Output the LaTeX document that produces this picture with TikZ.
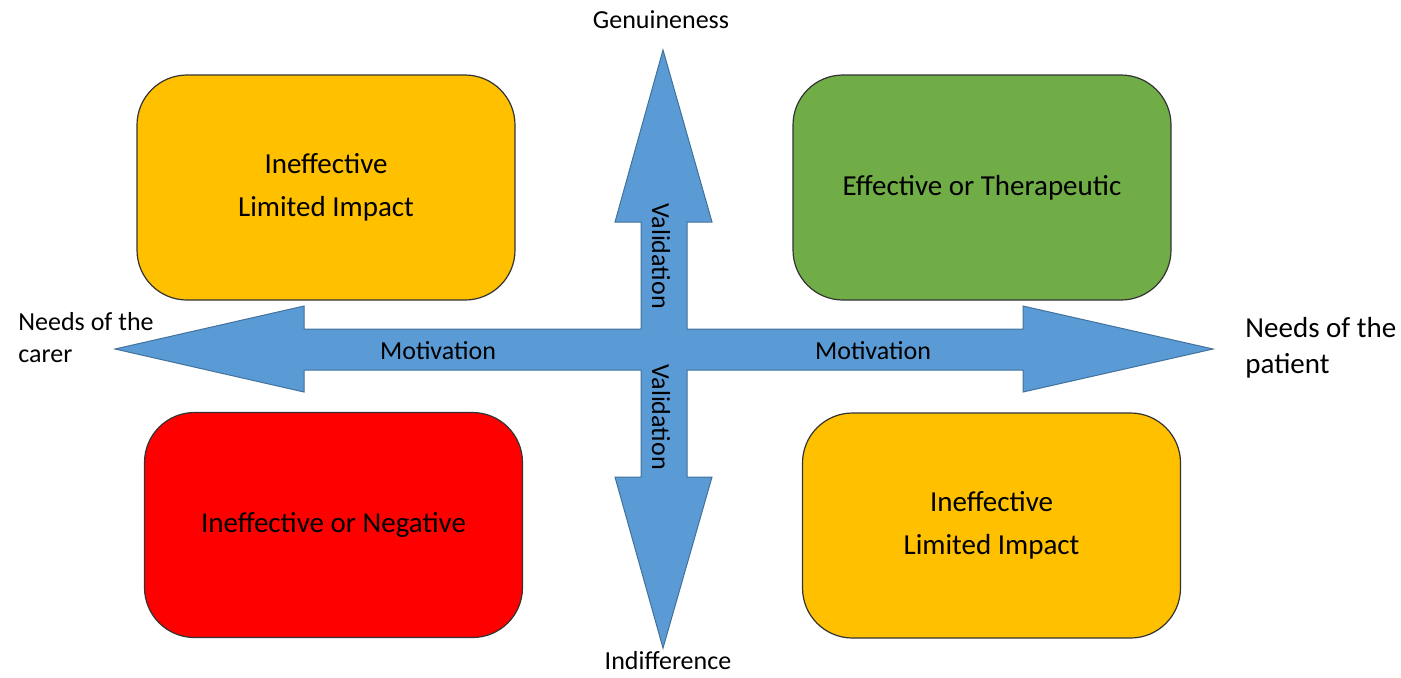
\documentclass[tikz,border=0pt]{standalone}
\usepackage{fontspec}
\setmainfont{Carlito}
\definecolor{amber}{HTML}{FFC000}
\definecolor{leaf}{HTML}{70AD47}
\definecolor{signal}{HTML}{FF0000}
\definecolor{sky}{HTML}{5B9BD5}
\definecolor{skyline}{HTML}{41719C}
\begin{document}
\begin{tikzpicture}[x=0.5pt, y=-0.5pt,
        quad/.style = {draw=black!80, line width=0.6pt, rounded corners=25pt,
                       minimum width=189pt, minimum height=112.5pt, align=center,
                       font=\fontsize{14.5}{21.5}\selectfont},
        tag/.style = {font=\fontsize{13}{14}\selectfont, inner sep=0pt},
        axis/.style = {fill=sky, draw=skyline, line width=0.5pt}]
    \useasboundingbox (0,0) rectangle (1401,677);

    % the two axes as one cross
    \draw[axis] (663,50) -- (712,222) -- (687,222) -- (687,329) -- (1023,329)
        -- (1023,306) -- (1213,349) -- (1023,392) -- (1023,370) -- (687,370)
        -- (687,477) -- (712,477) -- (663,648) -- (615,477) -- (641,477)
        -- (641,370) -- (304,370) -- (304,392) -- (115,349) -- (304,306)
        -- (304,329) -- (641,329) -- (641,222) -- (615,222) -- cycle;

    \node[quad, fill=amber]  (tl) at (326,187.5)   {Ineffective\\Limited Impact};
    \node[quad, fill=leaf]   (tr) at (982,187.5)   {Effective or Therapeutic};
    \node[quad, fill=signal] (bl) at (333.5,525)   {Ineffective or Negative};
    \node[quad, fill=amber]  (br) at (991.5,525.5) {Ineffective\\Limited Impact};

    \node[tag] (top)    at (661,20)  {Genuineness};
    \node[tag] (bottom) at (668,661) {Indifference};
    \node[tag, align=left, anchor=west] (carer) at (18,338)
        {Needs of the\\[2pt]carer};
    \node[tag, align=left, anchor=west, font=\fontsize{14.5}{15}\selectfont] (patient) at (1245,348)
        {Needs of the\\[3pt]patient};

    \node[tag] (motl) at (438,351) {Motivation};
    \node[tag] (motr) at (873,351) {Motivation};
    \node[tag, rotate=-90] (valu) at (661,256) {Validation};
    \node[tag, rotate=-90] (vald) at (661,417) {Validation};
\end{tikzpicture}
\end{document}
